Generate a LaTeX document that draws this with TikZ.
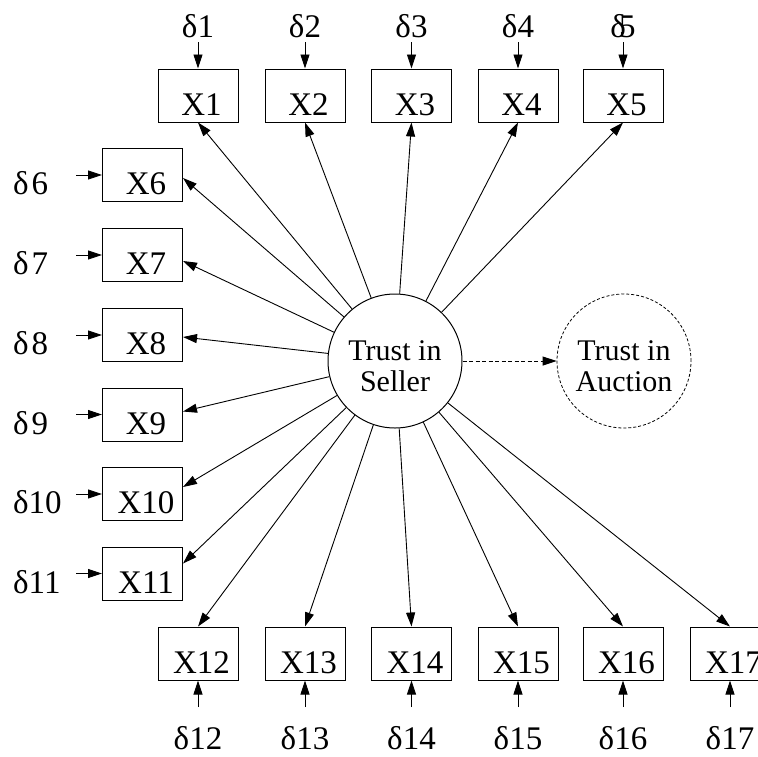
\documentclass[tikz,border=0pt]{standalone}
\usepackage{fontspec}
\setmainfont{Liberation Serif}
\usetikzlibrary{arrows.meta,calc}
\begin{document}
\begin{tikzpicture}[x=1pt,y=-1pt,
  box/.style={draw,line width=1pt,minimum width=80pt,minimum height=53pt,inner sep=0pt,text height=46pt,text depth=7pt,font=\fontsize{33}{36}\selectfont},
  lat/.style={draw,circle,line width=1pt,minimum size=134pt,inner sep=0pt,align=center,font=\fontsize{30}{31}\selectfont},
  err/.style={inner sep=0pt,font=\fontsize{33}{36}\selectfont},
  arr/.style={line width=0.9pt,-{Triangle[length=14pt,width=9pt]}},
]
\useasboundingbox (0,0) rectangle (758,756);
% top indicators
\foreach \i/\x in {1/198,2/305,3/411.5,4/518,5/623}{
  \node[box] (X\i) at (\x,95.5) {\hspace*{7pt}X\i};
  \coordinate (e\i) at (\x,42);
  \draw[arr] (e\i) -- (X\i.north);
}
\node[err,anchor=base] (d1) at (198,37) {δ1};
\node[err,anchor=base] (d2) at (305,37) {δ2};
\node[err,anchor=base] (d3) at (411.5,37) {δ3};
\node[err,anchor=base] (d4) at (518,37) {δ4};
\node[err,anchor=base] (d5) at (623,37) {δ\kern-7pt5};
% left indicators
\foreach \i/\y in {6/175,7/255,8/335,9/414.5,10/494,11/573.5}{
  \node[box] (X\i) at (142.5,\y) {\hspace*{7pt}X\i};
  \coordinate (e\i) at (76,\y);
  \draw[arr] (e\i) -- (X\i.west);
}
\node[err,anchor=base west] (d6) at (13,194) {δ\kern3pt6};
\node[err,anchor=base west] (d7) at (13,274) {δ\kern3pt7};
\node[err,anchor=base west] (d8) at (13,354) {δ\kern3pt8};
\node[err,anchor=base west] (d9) at (13,434) {δ\kern3pt9};
\node[err,anchor=base west] (d10) at (13,513) {δ10};
\node[err,anchor=base west] (d11) at (13,593) {δ11};
% bottom indicators
\foreach \i/\x in {12/198,13/305,14/411.5,15/518,16/623,17/730}{
  \node[box] (X\i) at (\x,653.5) {\hspace*{7pt}X\i};
  \coordinate (e\i) at (\x,707);
  \draw[arr] (e\i) -- (X\i.south);
  \node[err,anchor=base] (d\i) at (\x,749) {δ\i};
}
% latent variables
\node[lat] (S) at (395,361) {\rule{0pt}{30pt}Trust in\\Seller};
\node[lat,line width=0.8pt,dash pattern=on 3pt off 2pt] (A) at (624,361) {\rule{0pt}{30pt}Trust in\\Auction};
\draw[arr,dash pattern=on 4pt off 2.5pt] (S) -- (A);
% loadings
\foreach \i in {1,...,5}{\draw[arr] (S) -- (X\i.south);}
\foreach \i in {12,...,17}{\draw[arr] (S) -- (X\i.north);}
\draw[arr] (S) -- ($(X6.east)+(0,3)$);
\draw[arr] (S) -- ($(X7.east)+(0,6)$);
\draw[arr] (S) -- ($(X8.east)+(0,2)$);
\draw[arr] (S) -- ($(X9.east)+(0,-3)$);
\draw[arr] (S) -- ($(X10.east)+(0,-7)$);
\draw[arr] (S) -- ($(X11.east)+(0,-10)$);
\end{tikzpicture}
\end{document}
